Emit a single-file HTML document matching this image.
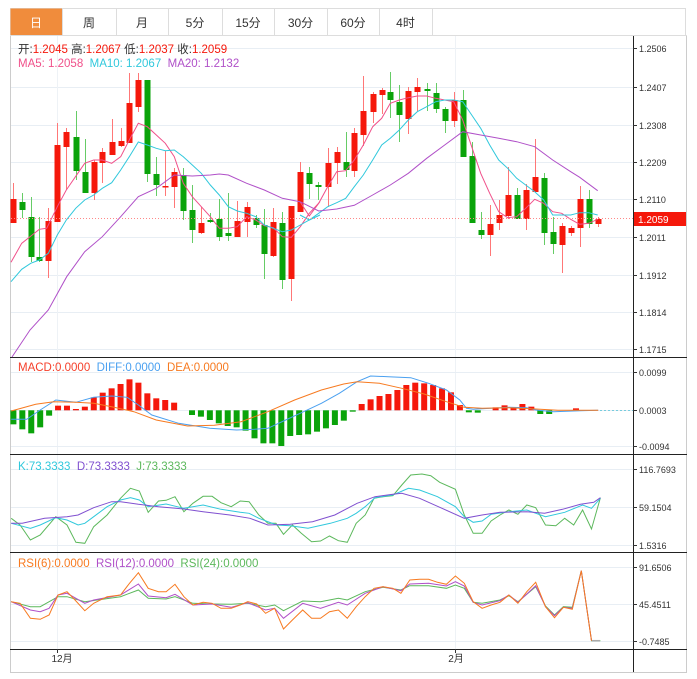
<!DOCTYPE html>
<html><head><meta charset="utf-8"><style>
body{margin:0;background:#fff;width:697px;height:679px;overflow:hidden;font-family:"Liberation Sans","Noto Sans CJK SC",sans-serif}
svg{position:absolute;left:0;top:0}
</style></head><body>
<svg id="s" width="697" height="679" xmlns="http://www.w3.org/2000/svg" font-family="Liberation Sans, Noto Sans CJK SC, sans-serif"></svg>
<script>
const S=document.getElementById('s');let h='';
const R='#f5180b',G='#0aa30a';
function line(x1,y1,x2,y2,c,w,extra){h+=`<line x1="${x1}" y1="${y1}" x2="${x2}" y2="${y2}" stroke="${c}" stroke-width="${w||1}" ${extra||''}/>`;}
function rect(x,y,w,hh,f,extra){h+=`<rect x="${x}" y="${y}" width="${w}" height="${hh}" fill="${f}" ${extra||''}/>`;}
function text(x,y,t,c,sz,extra){h+=`<text x="${x}" y="${y}" fill="${c}" font-size="${sz||11}" ${extra||''}>${t}</text>`;}
function poly(pts,c,sx,sy,ox,oy){h+=`<polyline fill="none" stroke="${c}" stroke-width="1" points="${pts.map(p=>(ox+p[0]/sx).toFixed(1)+','+(oy+p[1]/sy).toFixed(1)).join(' ')}"/>`;}
// tabs
rect(10.5,8.5,675,27,'#fff','stroke="#ddd"');
rect(10.5,8.5,52,27,'#f08c3c');
const tx=[10,62,116,168,222,274,327,379,432];
const tl=['日','周','月','5分','15分','30分','60分','4时'];
for(let i=0;i<8;i++){ if(i>0)line(tx[i]+.5,8,tx[i]+.5,35,'#ddd');
 text((tx[i]+tx[i+1])/2,27,tl[i],i==0?'#fff':'#333',12,'text-anchor="middle"');}
line(tx[8]+.5,8,tx[8]+.5,35,'#ddd');
// frame
line(10.5,36,10.5,672,'#ccc');line(686.5,36,686.5,672,'#ccc');line(10,672.5,687,672.5,'#ccc');line(10,35.5,687,35.5,'#ddd');
line(633.5,36,633.5,672,'#222');
// grids price
const pl=[['1.2506',48],['1.2407',87],['1.2308',125],['1.2209',162],['1.2110',199],['1.2011',237],['1.1912',275],['1.1814',312],['1.1715',349]];
pl.forEach(p=>{line(11,p[1]+.5,633,p[1]+.5,'#e8eef4');line(633,p[1]+.5,637,p[1]+.5,'#333');text(639,p[1]+4,p[0],'#333',9);});
line(57.5,36,57.5,649,'#eef2f6');line(455.5,36,455.5,649,'#eef2f6');
// dividers
[357,454,552,649].forEach(y=>line(10,y+.5,687,y+.5,'#222'));
// candles
const C=[[13,199,223,183,223,R],[22,202,210,193,218,G],[31,217,257,197,262,G],[39,257,261,217,262,G],[48,221,261,208,278,R],[57,145,222,123,222,R],[66,132,147,128,190,R],[76,137,171,111,180,G],[85,172,193,139,193,G],[94,162,193,160,200,R],[102,152,163,148,183,R],[112,142,155,119,155,R],[121,141,146,128,147,R],[129,103,143,73,143,R],[138,80,107,73,112,R],[147,80,174,80,182,G],[156,174,185,157,196,G],[165,186,187,151,196,R],[174,172,187,168,208,R],[183,175,211,168,220,G],[192,210,230,185,243,G],[201,223,233,207,234,R],[210,220,222,213,223,G],[219,219,237,199,241,G],[228,233,236,193,241,G],[237,221,237,201,237,R],[247,207,222,202,237,R],[256,218,225,215,228,G],[264,225,254,209,279,G],[273,222,256,208,257,R],[282,223,280,212,289,G],[291,206,279,206,301,R],[300,172,212,162,212,R],[309,173,184,167,199,G],[318,185,187,182,200,G],[328,163,187,148,207,R],[337,152,163,147,184,R],[346,162,170,132,177,G],[354,133,171,128,177,R],[363,111,135,76,146,R],[373,94,112,92,123,R],[382,90,95,88,114,R],[390,92,100,72,118,G],[399,102,115,85,142,G],[408,91,119,87,134,R],[417,87,92,78,111,R],[427,89,91,83,111,G],[436,93,109,83,113,G],[445,109,121,107,133,G],[454,100,121,92,127,R],[463,100,157,90,157,G],[472,156,223,142,223,G],[481,230,235,212,239,G],[490,224,235,205,256,R],[499,215,223,200,230,R],[508,195,216,167,219,R],[517,195,219,188,219,G],[526,190,219,184,230,R],[535,177,192,139,192,R],[544,178,233,173,245,G],[553,232,244,217,254,G],[562,226,245,223,273,R],[571,228,233,226,236,R],[580,199,228,186,247,R],[589,199,224,190,228,G],[598,219,224,217,227,R]];
C.forEach(c=>{line(c[0]+.5,c[3],c[0]+.5,c[4],c[5]=='#f5180b'?'#f77':'#6c6');rect(c[0]-2.5,c[1],6,Math.max(1.5,c[2]-c[1]),c[5]);});
// MAs
poly([[33,607],[65,550],[118,508],[140,505],[172,440],[199,390],[254,310],[281,300],[307,300],[335,310],[362,290],[388,240],[415,190],[442,200],[469,225],[496,250],[523,290],[550,370],[577,410],[604,440],[631,470],[658,505],[685,505],[712,500],[740,470],[767,480],[793,497],[820,503],[847,530],[874,532],[901,500],[928,460],[960,425]],'#f0508a',3,3,0,60);
poly([[0,425],[28,468],[56,430],[83,380],[110,335],[137,332],[163,300],[190,255],[218,200],[245,175],[271,130],[298,120],[325,113],[352,108],[380,108],[407,115],[434,120],[461,125],[488,180],[515,260],[542,340],[569,400],[596,455],[623,473],[650,470],[677,445],[704,418],[731,430],[758,455],[785,460],[812,478],[839,493],[866,490],[893,478]],'#f0508a',3,3,300,60);
poly([[33,665],[65,628],[92,610],[118,600],[145,580],[172,525],[199,480],[227,445],[254,420],[281,405],[307,385],[335,368],[362,330],[388,290],[415,246],[442,255],[469,265],[496,272],[523,270],[550,290],[577,315],[604,340],[631,375],[658,405],[685,440],[712,453],[740,460],[767,470],[793,495],[820,505],[847,515],[874,510],[901,495],[928,480],[960,465]],'#30c8dc',3,3,0,60);
poly([[0,465],[28,480],[56,460],[83,440],[110,428],[137,415],[163,380],[190,345],[218,300],[245,255],[271,235],[298,210],[325,180],[352,155],[380,140],[407,125],[434,120],[461,120],[488,125],[515,165],[542,205],[569,255],[596,300],[623,325],[650,355],[677,375],[704,395],[731,420],[758,465],[785,465],[812,465],[839,458],[866,458],[893,465]],'#30c8dc',3,3,300,60);
poly([[36,891],[90,810],[145,750],[200,650],[254,575],[307,530],[362,470],[415,410],[469,385],[523,345],[577,348],[631,345],[658,342],[685,345],[740,370],[793,390],[847,415],[900,425]],'#b050c8',3,3,0,60);
poly([[0,425],[56,453],[110,447],[163,436],[218,405],[271,375],[325,340],[380,295],[434,255],[488,215],[542,225],[596,235],[650,245],[704,260],[758,300],[812,335],[839,352],[893,392]],'#b050c8',3,3,300,60);
// price dotted
line(11,218.5,633,218.5,'#f88','1','stroke-dasharray="1,2"');
rect(634,212,52,14,R);text(638,223,'1.2059','#fff',10);
// legends
h+=`<text x="18" y="53" font-size="11.5" fill="#333">开:<tspan fill="${R}">1.2045</tspan>  高:<tspan fill="${R}">1.2067</tspan>  低:<tspan fill="${R}">1.2037</tspan>  收:<tspan fill="${R}">1.2059</tspan></text>`;
h+=`<text x="18" y="67" font-size="11.5" xml:space="preserve"><tspan fill="#f0508a">MA5: 1.2058</tspan>  <tspan fill="#30c8dc">MA10: 1.2067</tspan>  <tspan fill="#b050c8">MA20: 1.2132</tspan></text>`;
// MACD
[['0.0099',372],['0.0003',410],['-0.0094',446]].forEach(p=>{line(11,p[1]+.5,633,p[1]+.5,'#e8eef4');line(633,p[1]+.5,637,p[1]+.5,'#333');text(639,p[1]+4,p[0],'#333',9);});
const M=[253,268,280,262,227,197,197,207,200,172,158,145,132,118,128,160,175,180,188,212,225,230,240,250,258,262,272,295,310,310,318,288,285,283,275,265,255,242,215,192,178,168,162,150,135,128,130,135,145,157,195,217,218,210,202,196,202,192,200,222,222,212,211,205,210,211];
M.forEach((v,i)=>{const x=13.4+i*8.93,y=340+v/3,z=410.3;if(Math.abs(y-z)<0.5)return;rect(x-3,Math.min(y,z),6,Math.abs(y-z),v<211?R:G);});
line(600,410.5,633,410.5,'#7cd','1','stroke-dasharray="2,2"');
poly([[25,238],[60,238],[90,210],[125,180],[170,187],[210,172],[250,168],[285,172],[310,195],[340,225],[400,250],[470,265],[530,270],[570,268],[600,265],[640,240],[680,215],[720,190],[760,160],[800,125],[830,108],[870,110],[920,113],[960,130],[1000,150],[1030,180],[1045,205],[1060,208],[1100,205],[1140,202],[1180,203],[1200,210],[1240,215],[1300,212],[1340,211]],'#4aa0f0',2.24,3,0,340);
poly([[25,213],[80,193],[120,185],[170,187],[210,190],[250,200],[300,215],[350,240],[420,258],[480,256],[540,245],[600,215],[660,180],[720,150],[770,132],[800,125],[850,130],[900,145],[950,162],[1000,185],[1040,202],[1080,205],[1140,203],[1200,207],[1250,211],[1340,211]],'#f77a20',2.24,3,0,340);
h+=`<text x="18" y="371" font-size="11.5" xml:space="preserve"><tspan fill="#f5402b">MACD:0.0000</tspan>  <tspan fill="#4aa0f0">DIFF:0.0000</tspan>  <tspan fill="#f77a20">DEA:0.0000</tspan></text>`;
// KDJ
[['116.7693',469],['59.1504',507],['1.5316',545]].forEach(p=>{line(11,p[1]+.5,633,p[1]+.5,'#e8eef4');line(633,p[1]+.5,637,p[1]+.5,'#333');text(639,p[1]+4,p[0],'#333',9);});
poly([[25,190],[45,210],[68,255],[90,240],[125,185],[150,210],[170,262],[190,265],[210,215],[240,180],[270,130],[292,100],[312,108],[332,172],[355,138],[372,136],[392,125],[412,170],[432,145],[455,124],[475,124],[495,143],[518,155],[538,138],[558,140],[580,180],[600,205],[618,205],[635,238],[655,210],[675,235],[698,260],[718,258],[738,243],[758,257],[778,262],[798,205],[818,180],[838,130],[858,125],[880,122],[900,90],[920,60],[945,57],[965,62],[985,82],[1020,103],[1040,180],[1060,235],[1080,235],[1100,198],[1120,180],[1140,165],[1160,178],[1180,150],[1200,158],[1222,210],[1245,212],[1265,190],[1285,210],[1305,165],[1325,222],[1345,128]],'#5cb85c',2.24,3,0,455);
poly([[25,205],[68,220],[90,210],[125,188],[150,195],[175,210],[190,205],[210,185],[240,155],[270,135],[292,128],[312,135],[332,155],[372,147],[412,160],[455,150],[495,163],[538,172],[558,175],[580,190],[620,210],[650,212],[690,220],[740,205],[778,190],[798,175],[818,155],[840,128],[880,120],[915,100],[940,105],[980,125],[1020,155],[1040,185],[1060,202],[1080,198],[1100,178],[1140,170],[1180,165],[1222,185],[1265,172],[1305,150],[1325,160],[1345,130]],'#30c8dc',2.24,3,0,455);
poly([[25,205],[50,205],[100,190],[150,185],[175,180],[210,158],[250,140],[270,140],[310,148],[355,155],[412,162],[455,170],[515,180],[560,190],[600,210],[650,208],[700,200],[750,180],[800,145],[840,125],[880,118],[900,115],[940,130],[990,160],[1040,190],[1080,180],[1120,172],[1180,170],[1220,175],[1260,163],[1300,148],[1330,142],[1345,128]],'#8050d0',2.24,3,0,455);
h+=`<text x="18" y="470" font-size="11.5" xml:space="preserve"><tspan fill="#30c8dc">K:73.3333</tspan>  <tspan fill="#8050d0">D:73.3333</tspan>  <tspan fill="#5cb85c">J:73.3333</tspan></text>`;
// RSI
[['91.6506',567],['45.4511',604],['-0.7485',641]].forEach(p=>{line(11,p[1]+.5,633,p[1]+.5,'#e8eef4');line(633,p[1]+.5,637,p[1]+.5,'#333');text(639,p[1]+4,p[0],'#333',9);});
poly([[25,155],[68,170],[90,170],[130,140],[150,140],[190,155],[270,140],[310,120],[332,145],[372,147],[392,140],[432,160],[475,162],[518,163],[555,160],[595,170],[615,165],[635,182],[678,153],[718,155],[758,145],[778,150],[818,125],[858,112],[898,120],[918,107],[960,107],[1000,115],[1020,105],[1040,115],[1060,157],[1080,160],[1120,150],[1140,137],[1160,155],[1200,110],[1222,168],[1242,195],[1262,170],[1282,172],[1302,62],[1325,272],[1345,272]],'#5cb85c',2.24,3,0,550);
poly([[25,155],[68,180],[90,185],[110,175],[130,135],[150,130],[190,160],[210,150],[270,135],[310,102],[332,138],[372,143],[392,133],[432,165],[475,162],[518,172],[555,158],[595,180],[615,175],[635,205],[678,160],[718,175],[758,157],[778,165],[818,130],[858,110],[898,122],[918,102],[960,100],[1000,108],[1020,95],[1040,108],[1060,157],[1080,165],[1120,152],[1140,135],[1160,157],[1200,107],[1222,170],[1242,197],[1262,172],[1282,175],[1302,62],[1325,272]],'#b050c8',2.24,3,0,550);
poly([[25,155],[45,160],[68,205],[90,208],[110,195],[130,135],[150,125],[168,150],[190,182],[210,160],[240,140],[270,135],[290,100],[310,68],[332,115],[355,125],[372,125],[392,103],[412,140],[432,165],[455,157],[475,160],[495,175],[518,175],[538,165],[555,155],[575,162],[595,190],[615,175],[635,237],[655,210],[678,180],[698,205],[718,205],[738,185],[758,180],[778,205],[798,170],[818,140],[838,115],[858,110],[880,115],[898,130],[918,90],[940,88],[960,88],[980,97],[1000,103],[1020,78],[1040,100],[1060,155],[1080,175],[1100,165],[1120,157],[1140,135],[1160,160],[1180,125],[1200,97],[1222,170],[1242,203],[1262,172],[1282,178],[1302,62],[1325,272]],'#f77a20',2.24,3,0,550);
line(592,640.7,600,640.7,'#aaa','1.5');
h+=`<text x="18" y="567" font-size="11.5" xml:space="preserve"><tspan fill="#f77a20">RSI(6):0.0000</tspan>  <tspan fill="#b050c8">RSI(12):0.0000</tspan>  <tspan fill="#5cb85c">RSI(24):0.0000</tspan></text>`;
// x labels
line(57.5,649,57.5,653,'#333');line(455.5,649,455.5,653,'#333');
text(62,662,'12月','#333',10,'text-anchor="middle"');text(456,662,'2月','#333',10,'text-anchor="middle"');
S.innerHTML=h;
</script>
</body></html>
